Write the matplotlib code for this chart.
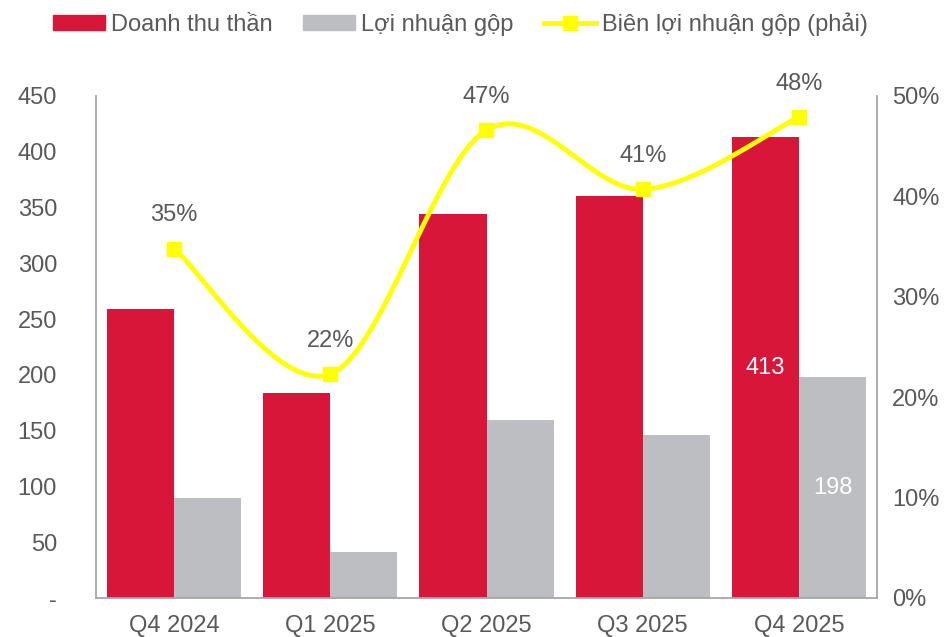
import numpy as np
import matplotlib
matplotlib.use("Agg")
import matplotlib.pyplot as plt
from matplotlib.patches import Patch
from matplotlib.lines import Line2D

plt.rcParams['font.family'] = ['Liberation Sans', 'DejaVu Sans']

categories = ["Q4 2024", "Q1 2025", "Q2 2025", "Q3 2025", "Q4 2025"]
revenue = [259, 184, 344, 360, 413]
gross_profit = [90, 41, 160, 146, 198]
margin = [34.8, 22.3, 46.6, 40.7, 47.9]
margin_labels = ["35%", "22%", "47%", "41%", "48%"]
left_ticks = [0, 50, 100, 150, 200, 250, 300, 350, 400, 450]
left_tick_labels = ["-", "50", "100", "150", "200", "250", "300", "350", "400", "450"]
right_ticks = [0, 10, 20, 30, 40, 50]
right_tick_labels = ["0%", "10%", "20%", "30%", "40%", "50%"]

RED = "#D7163A"
GRAY = "#BDBEC2"
YELLOW = "#FFFF00"
TXT = "#595959"
SPINE = "#A6A6A6"
FS = 17

fig = plt.figure(figsize=(9.48, 6.37), dpi=100)
ax = fig.add_axes([96/948, 39/637, (877-96)/948, (598-96)/637])
x = np.arange(len(categories))
w = 0.43
ax.bar(x - w/2, revenue, w, color=RED, zorder=2)
ax.bar(x + w/2, gross_profit, w, color=GRAY, zorder=2)

ax.set_xlim(-0.5, len(categories) - 0.5)
ax.set_ylim(0, 450)
ax.set_yticks(left_ticks)
ax.set_yticklabels(left_tick_labels)
ax.set_xticks(x)
ax.set_xticklabels(categories)
ax.tick_params(axis='y', length=0, pad=28, labelsize=FS, labelcolor=TXT)
ax.tick_params(axis='x', length=0, pad=12, labelsize=FS, labelcolor=TXT)
for s in ['top', 'right']:
    ax.spines[s].set_visible(False)
for s in ['left', 'bottom']:
    ax.spines[s].set_color(SPINE)
    ax.spines[s].set_linewidth(1.3)

# value labels for last category
ax.text(x[-1] - w/2, revenue[-1] / 2, str(revenue[-1]), color="white",
        ha='center', va='center', fontsize=FS, zorder=3)
ax.text(x[-1] + w/2, gross_profit[-1] / 2, str(gross_profit[-1]), color="white",
        ha='center', va='center', fontsize=FS, zorder=3)

ax2 = ax.twinx()
ax2.set_ylim(0, 50)
ax2.set_yticks(right_ticks)
ax2.set_yticklabels(right_tick_labels)
ax2.tick_params(axis='y', length=0, pad=11, labelsize=FS, labelcolor=TXT)
for s in ['top', 'left', 'bottom']:
    ax2.spines[s].set_visible(False)
ax2.spines['right'].set_color(SPINE)
ax2.spines['right'].set_linewidth(1.3)

# Catmull-Rom smoothing (Excel-like smooth line)
px = x.astype(float)
py = np.array(margin, dtype=float)
xs, ys = [], []
n = len(px)
for i in range(n - 1):
    p0 = (px[max(i-1, 0)], py[max(i-1, 0)])
    p1 = (px[i], py[i])
    p2 = (px[i+1], py[i+1])
    p3 = (px[min(i+2, n-1)], py[min(i+2, n-1)])
    c1 = (p1[0] + (p2[0]-p0[0])/6, p1[1] + (p2[1]-p0[1])/6)
    c2 = (p2[0] - (p3[0]-p1[0])/6, p2[1] - (p3[1]-p1[1])/6)
    t = np.linspace(0, 1, 40)
    bx = (1-t)**3*p1[0] + 3*(1-t)**2*t*c1[0] + 3*(1-t)*t**2*c2[0] + t**3*p2[0]
    by = (1-t)**3*p1[1] + 3*(1-t)**2*t*c1[1] + 3*(1-t)*t**2*c2[1] + t**3*p2[1]
    xs.extend(bx); ys.extend(by)
ax2.plot(xs, ys, color=YELLOW, lw=3.5, zorder=3, solid_capstyle='round')
ax2.plot(px, py, ls='none', marker='s', ms=10.5, color=YELLOW, zorder=4)

for xi, yi, lab in zip(px, py, margin_labels):
    ax2.annotate(lab, (xi, yi), xytext=(0, 24), textcoords='offset points',
                 ha='center', va='center', fontsize=FS, color=TXT)

handles = [Patch(color=RED), Patch(color=GRAY),
           Line2D([0], [0], color=YELLOW, lw=3.5, marker='s', ms=10.5)]
labels = ["Doanh thu thần", "Lợi nhuận gộp", "Biên lợi nhuận gộp (phải)"]
fig.legend(handles, labels, loc='center left', bbox_to_anchor=(53/948, 1 - 24/637),
           ncol=3, frameon=False, fontsize=17, labelcolor=TXT,
           handlelength=2.2, handleheight=0.55, handletextpad=0.25,
           columnspacing=1.3, borderaxespad=0, borderpad=0)

fig.savefig("out.png", dpi=100)
